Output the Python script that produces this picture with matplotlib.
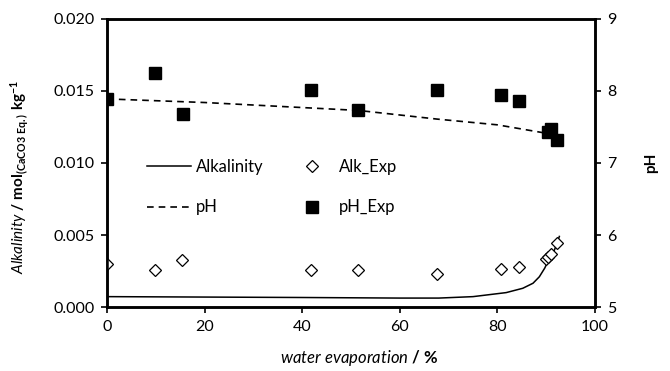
import matplotlib
matplotlib.use("Agg")
import matplotlib.pyplot as plt

plt.rcParams['font.family'] = ['Lato', 'DejaVu Sans']
plt.rcParams['mathtext.fontset'] = 'custom'
plt.rcParams['mathtext.rm'] = 'Lato'
plt.rcParams['mathtext.it'] = 'Lato:italic'
plt.rcParams['mathtext.bf'] = 'Lato:bold'

# Model alkalinity curve
alk_x = [0, 20, 40, 60, 68, 75, 81.8, 85.2, 87.3, 88.6, 89.7, 90.7, 91.7, 92.7]
alk_y = [0.00072, 0.00069, 0.00066, 0.00062, 0.00062, 0.00072, 0.00100, 0.0013, 0.00165, 0.0021, 0.0027, 0.0034, 0.00396, 0.0049]

# Experimental alkalinity
alkexp_x = [0, 9.8, 15.4, 41.8, 51.5, 67.6, 80.7, 84.5, 89.9, 90.4, 90.9, 92.2]
alkexp_y = [0.0030, 0.0026, 0.00326, 0.00257, 0.00257, 0.00227, 0.00264, 0.00276, 0.0033, 0.0035, 0.00366, 0.00447]

# Model pH
ph_x = [0, 20, 40, 51.5, 67.6, 80, 90.3]
ph_y = [7.89, 7.84, 7.77, 7.73, 7.61, 7.53, 7.41]

# Experimental pH
phexp_x = [0, 9.8, 15.5, 41.8, 51.5, 67.6, 80.7, 84.4, 90.3, 91.0, 92.3]
phexp_y = [7.89, 8.25, 7.68, 8.02, 7.73, 8.01, 7.94, 7.86, 7.43, 7.47, 7.32]

fig = plt.figure(figsize=(6.7, 3.71), dpi=100)
ax = fig.add_axes([0.160, 0.1725, 0.728, 0.7763])
ax2 = ax.twinx()

l1, = ax.plot(alk_x, alk_y, color='black', lw=1.1, label='Alkalinity')
m1, = ax.plot(alkexp_x, alkexp_y, linestyle='none', marker='D', markersize=6.5,
              markerfacecolor='white', markeredgecolor='black', markeredgewidth=0.9,
              label='Alk_Exp', zorder=3)
l2, = ax2.plot(ph_x, ph_y, color='black', lw=1.2, linestyle=(0, (4, 3)), label='pH')
m2, = ax2.plot(phexp_x, phexp_y, linestyle='none', marker='s', markersize=8.5,
               color='black', label='pH_Exp')

ax.set_xlim(0, 100)
ax.set_ylim(0, 0.020)
ax2.set_ylim(5, 9)
ax.set_xticks([0, 20, 40, 60, 80, 100])
ax.set_yticks([0.000, 0.005, 0.010, 0.015, 0.020])
ax.set_yticklabels(['0.000', '0.005', '0.010', '0.015', '0.020'])
ax2.set_yticks([5, 6, 7, 8, 9])

for a in (ax, ax2):
    for s in a.spines.values():
        s.set_linewidth(1.8)
    a.tick_params(direction='out', length=4, width=1.2, labelsize=11.5, pad=5)

ax.set_xlabel(r'$\mathit{water\ evaporation}$ $\mathbf{/\ \%}$', fontsize=12)
ax.xaxis.set_label_coords(0.518, -0.142)
ax.set_ylabel(r'$\mathit{Alkalinity}$ $\mathbf{/\ mol_{(CaCO3\ Eq.)}\ kg^{-1}}$', fontsize=11)
ax.yaxis.set_label_coords(-0.156, 0.45)
ax2.set_ylabel('pH', fontsize=11, fontweight='bold', rotation=90, labelpad=20)

handles = [l1, l2, m1, m2]
labels = ['Alkalinity', 'pH', 'Alk_Exp', 'pH_Exp']
leg = ax.legend(handles, labels, ncol=2, frameon=False, loc='upper left',
                bbox_to_anchor=(0.05, 0.565), fontsize=12, handlelength=2.65,
                handletextpad=0.3, columnspacing=1.6, labelspacing=1.45)

fig.savefig('out.png', dpi=100)
